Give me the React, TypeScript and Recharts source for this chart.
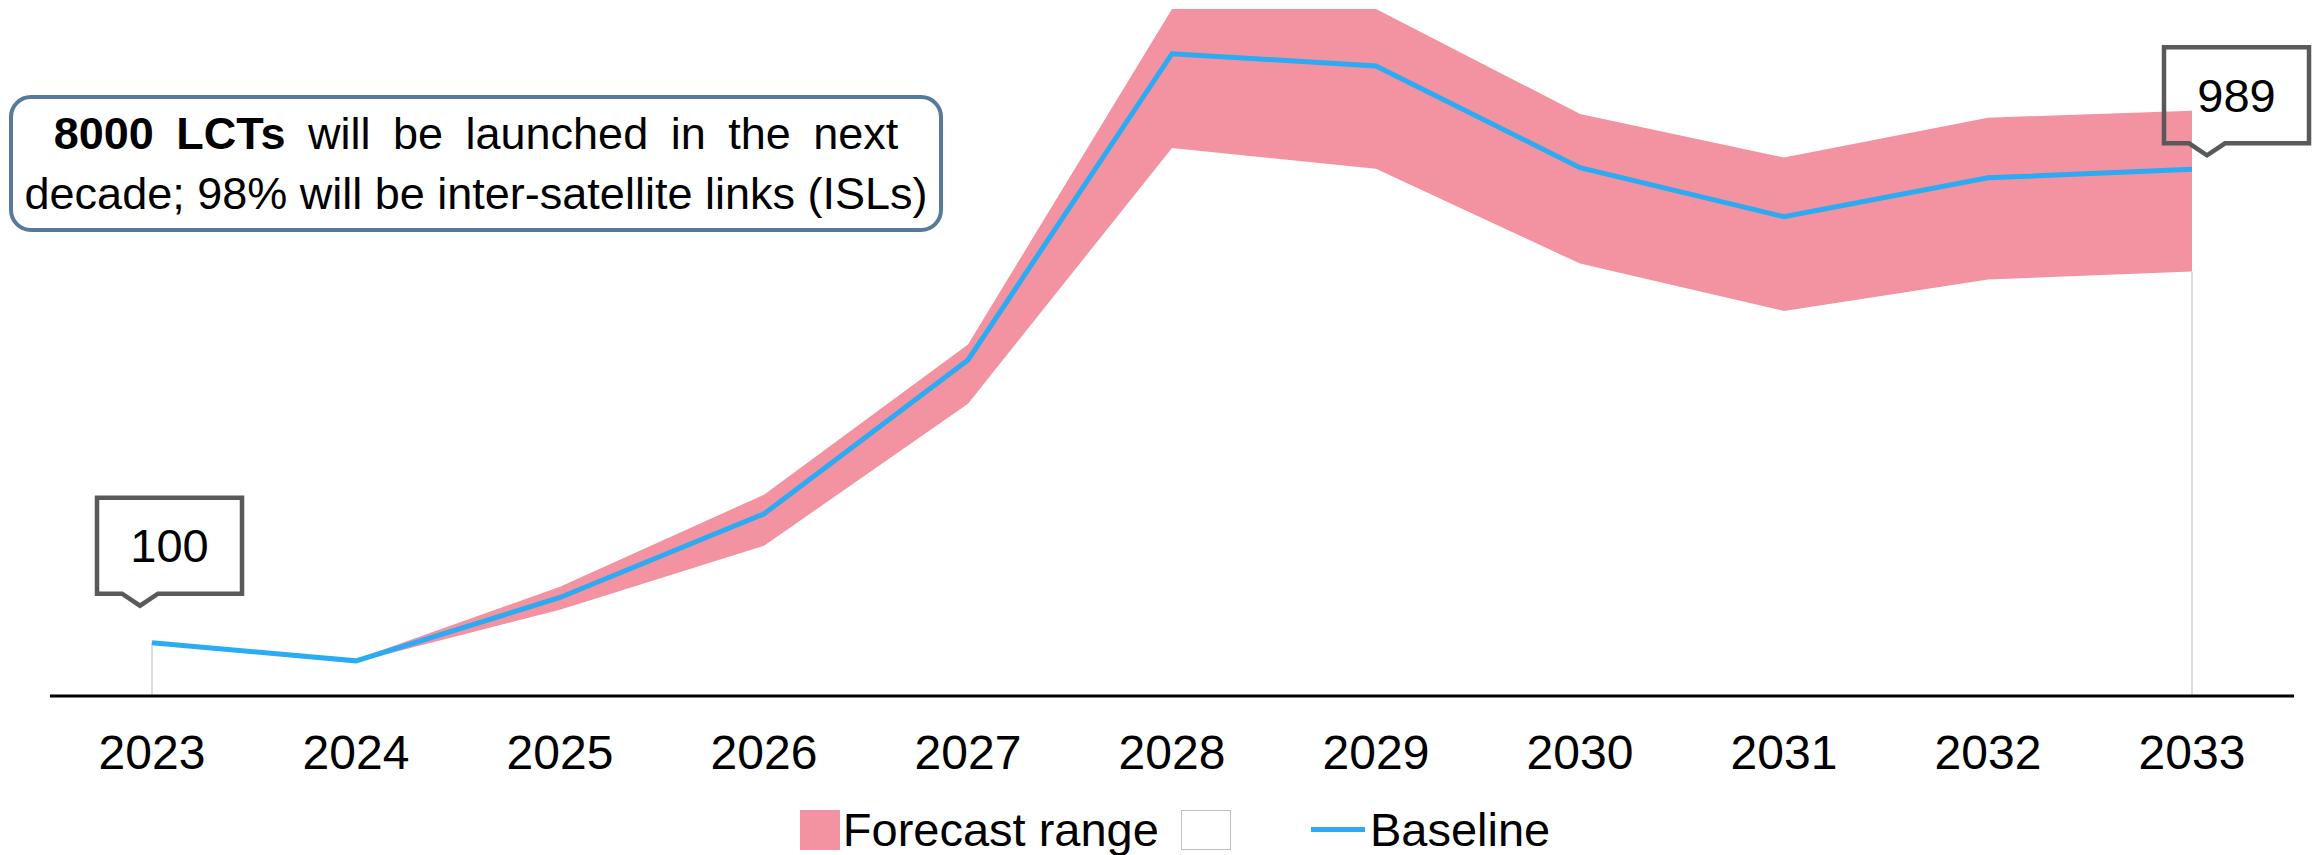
import React from 'react'
import { ComposedChart, Area, Line, XAxis, YAxis, LabelList, Legend, ReferenceLine } from 'recharts'

const years = ['2023', '2024', '2025', '2026', '2027', '2028', '2029', '2030', '2031', '2032', '2033']
const baseline = [100, 66, 185, 342, 631, 1206, 1183, 992, 900, 973, 989]
const lowValues = [100, 64, 162, 282, 549, 1029, 990, 812, 723, 782, 797]
const highValues = [100, 69, 205, 378, 660, 1290, 1290, 1093, 1011, 1086, 1099]

const FONT = '"Liberation Sans", Arial, sans-serif'
const PINK = '#F392A0'
const BLUE = '#2AABF3'

const data = years.map((year, i) => ({
  year,
  low: lowValues[i],
  range: [lowValues[i], highValues[i]],
  baseline: baseline[i],
}))

// callout box offset from the data point, per point index
const callouts: Record<number, { dx: number; dy: number }> = {
  0: { dx: -55, dy: -145 },
  10: { dx: -28, dy: -122 },
}

const Callout = (props: any) => {
  const { x, y, index, value } = props
  const c = callouts[index]
  if (!c) return null
  const l = x + c.dx
  const t = y + c.dy
  const w = 145
  const h = 96
  const b = t + h
  const path = `M${l},${t} H${l + w} V${b} H${l + 61} L${l + 43},${b + 12} L${l + 25},${b} H${l} Z`
  return (
    <g>
      <path d={path} fill="none" stroke="#595959" strokeWidth={4.5} />
      <text x={l + w / 2} y={t + h / 2} textAnchor="middle" dominantBaseline="central" fontSize={47} fontFamily={FONT} fill="#000">
        {value}
      </text>
    </g>
  )
}

const renderLegend = () => (
  <div style={{ display: 'flex', justifyContent: 'center', alignItems: 'center', paddingLeft: 32, fontFamily: FONT, fontSize: 47, color: '#000' }}>
    <span style={{ width: 40, height: 40, background: PINK, display: 'inline-block', marginRight: 3 }} />
    <span>Forecast range</span>
    <span style={{ width: 50, height: 40, background: '#fff', border: '1px solid #bfbfbf', display: 'inline-block', marginLeft: 22, boxSizing: 'border-box' }} />
    <span style={{ width: 54, height: 5, background: BLUE, display: 'inline-block', marginLeft: 80, marginRight: 5 }} />
    <span>Baseline</span>
  </div>
)

export default function App() {
  return (
    <div style={{ position: 'relative', width: 2318, height: 855, background: '#fff' }}>
      <style>{`body{margin:0}`}</style>
      <ComposedChart width={2318} height={855} data={data} margin={{ top: 9, right: 24, bottom: 99, left: 50 }}>
        <XAxis
          dataKey="year"
          scale="band"
          axisLine={{ stroke: '#000', strokeWidth: 3 }}
          tickLine={false}
          tickSize={0}
          tickMargin={39}
          height={60}
          tick={{ fontSize: 48, fontFamily: FONT, fill: '#000' }}
          interval={0}
        />
        <YAxis hide domain={[0, 1290]} />
        <Area dataKey="low" fill="#fff" fillOpacity={1} stroke="none" isAnimationActive={false} />
        <Area dataKey="range" fill={PINK} fillOpacity={1} stroke="none" isAnimationActive={false} />
        <ReferenceLine segment={[{ x: years[0], y: 0 }, { x: years[0], y: lowValues[0] }]} stroke="#d0d0d0" strokeWidth={1.5} />
        <ReferenceLine segment={[{ x: years[10], y: 0 }, { x: years[10], y: lowValues[10] }]} stroke="#d0d0d0" strokeWidth={1.5} />
        <Line dataKey="baseline" stroke={BLUE} strokeWidth={5} dot={false} isAnimationActive={false}>
          <LabelList dataKey="baseline" content={Callout} />
        </Line>
        <Legend layout="horizontal" verticalAlign="middle" align="center" wrapperStyle={{ top: 802, left: 0, width: 2318 }} content={renderLegend} />
      </ComposedChart>
      <div
        style={{
          position: 'absolute',
          left: 9,
          top: 95,
          width: 934,
          height: 137,
          boxSizing: 'border-box',
          border: '4.5px solid #57799A',
          borderRadius: 22,
          background: '#fff',
          fontFamily: FONT,
          fontSize: 45,
          lineHeight: '60px',
          textAlign: 'center',
          display: 'flex',
          flexDirection: 'column',
          justifyContent: 'center',
          color: '#000',
        }}
      >
        <div style={{ wordSpacing: 10 }}>
          <b>8000 LCTs</b> will be launched in the next
        </div>
        <div>decade; 98% will be inter-satellite links (ISLs)</div>
      </div>
    </div>
  )
}
